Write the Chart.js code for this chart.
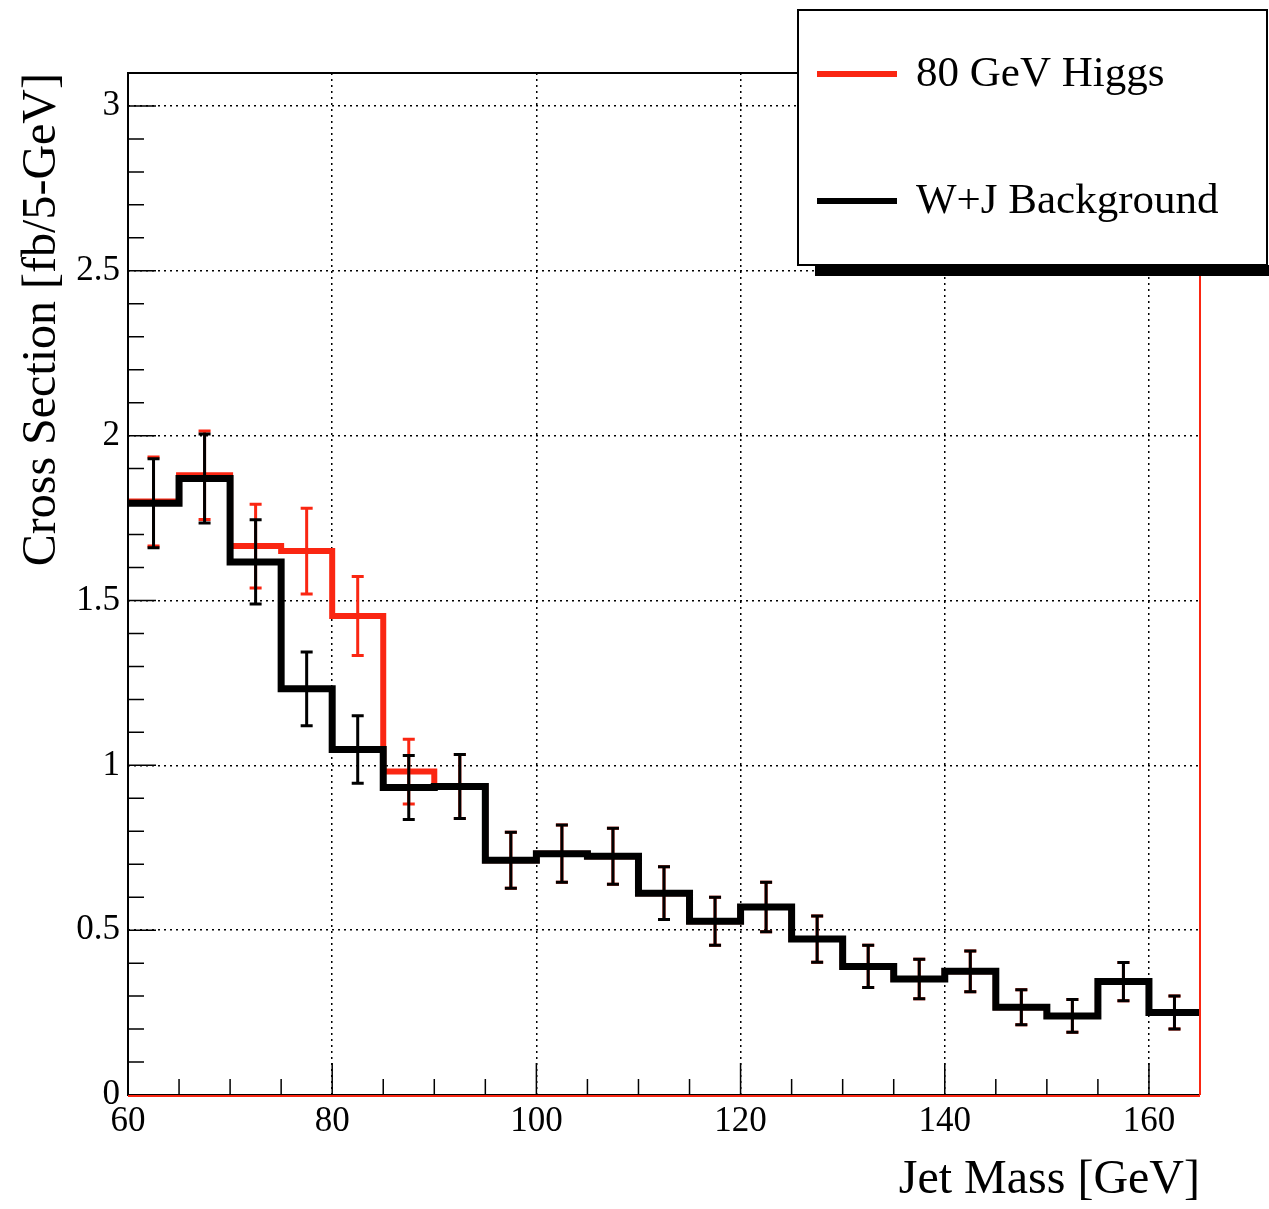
<!DOCTYPE html>
<html>
<head>
<meta charset="utf-8">
<title>Jet Mass</title>
<script src="https://cdn.jsdelivr.net/npm/chart.js@4.4.1/dist/chart.umd.min.js"></script>
<style>
    body { margin: 0; background: #fff; }
    canvas { display: block; }
</style>
</head>
<body>
<canvas id="myChart" width="1269" height="1209"></canvas>
<script>
// bins of 5 GeV, lower edges
const binLow = [60, 65, 70, 75, 80, 85, 90, 95, 100, 105, 110, 115, 120, 125, 130, 135, 140, 145, 150, 155, 160];
const binWidth = 5;

// 80 GeV Higgs (signal + background)
const higgsValues = [1.80, 1.88, 1.665, 1.65, 1.453, 0.981, 0.936, 0.712, 0.732, 0.724, 0.612, 0.527, 0.570, 0.473, 0.390, 0.352, 0.375, 0.266, 0.240, 0.344, 0.250];
const higgsErrors = [0.135, 0.134, 0.127, 0.13, 0.12, 0.098, 0.097, 0.085, 0.087, 0.085, 0.080, 0.073, 0.075, 0.070, 0.064, 0.060, 0.062, 0.053, 0.050, 0.058, 0.050];

// W+J background
const bgValues = [1.795, 1.87, 1.617, 1.232, 1.048, 0.933, 0.936, 0.712, 0.732, 0.724, 0.612, 0.527, 0.570, 0.473, 0.390, 0.352, 0.375, 0.266, 0.240, 0.344, 0.250];
const bgErrors = [0.135, 0.135, 0.128, 0.112, 0.102, 0.097, 0.097, 0.085, 0.087, 0.085, 0.080, 0.073, 0.075, 0.070, 0.064, 0.060, 0.062, 0.053, 0.050, 0.058, 0.050];

const xTickLabels = [60, 80, 100, 120, 140, 160];
const yTickLabels = [0, 0.5, 1, 1.5, 2, 2.5, 3];

const RED = 'rgb(250, 38, 18)';
const FONT = "'Liberation Serif', 'Times New Roman', serif";

// histogram -> points for a stepped line (last bin closed at its upper edge)
function stepPoints(values) {
    const pts = binLow.map(function (x, i) { return { x: x, y: values[i] }; });
    pts.push({ x: binLow[binLow.length - 1] + binWidth, y: values[values.length - 1] });
    return pts;
}

// vertical error bars at bin centres
const errorBars = {
    id: 'errorBars',
    afterDatasetDraw(chart, args) {
        const ds = chart.data.datasets[args.index];
        if (!ds.errors) return;
        const ctx = chart.ctx;
        const x = chart.scales.x, y = chart.scales.y;
        ctx.save();
        ctx.strokeStyle = ds.borderColor;
        ctx.lineWidth = 3;
        ds.values.forEach(function (v, i) {
            const cx = x.getPixelForValue(binLow[i] + binWidth / 2);
            const top = y.getPixelForValue(v + ds.errors[i]);
            const bot = y.getPixelForValue(v - ds.errors[i]);
            ctx.beginPath();
            ctx.moveTo(cx, top); ctx.lineTo(cx, bot);
            ctx.moveTo(cx - 6, top); ctx.lineTo(cx + 6, top);
            ctx.moveTo(cx - 6, bot); ctx.lineTo(cx + 6, bot);
            ctx.stroke();
        });
        ctx.restore();
    }
};

// inner tick marks + frame
const frameTicks = {
    id: 'frameTicks',
    beforeDatasetsDraw(chart) {
        const ctx = chart.ctx, a = chart.chartArea;
        const x = chart.scales.x, y = chart.scales.y;
        ctx.save();
        ctx.strokeStyle = '#000';
        ctx.lineWidth = 1.5;
        ctx.beginPath();
        for (let v = 60; v <= 165; v += 5) {
            const px = x.getPixelForValue(v);
            const len = (v % 20 === 0) ? 32 : 16;
            ctx.moveTo(px, a.bottom); ctx.lineTo(px, a.bottom - len);
        }
        for (let k = 0; k <= 31; k++) {
            const py = y.getPixelForValue(k / 10);
            const len = (k % 5 === 0) ? 28 : 16;
            ctx.moveTo(a.left, py); ctx.lineTo(a.left + len, py);
        }
        ctx.stroke();
        ctx.restore();
    },
    afterDatasetsDraw(chart) {
        const ctx = chart.ctx, a = chart.chartArea;
        ctx.save();
        ctx.lineWidth = 2;
        ctx.strokeStyle = '#000';
        ctx.beginPath();
        ctx.moveTo(a.right, a.top); ctx.lineTo(a.left, a.top);
        ctx.lineTo(a.left, a.bottom); ctx.lineTo(a.right, a.bottom);
        ctx.stroke();
        ctx.strokeStyle = RED;
        ctx.beginPath();
        ctx.moveTo(a.left, a.bottom + 1); ctx.lineTo(a.right, a.bottom + 1);
        ctx.moveTo(a.right, a.bottom); ctx.lineTo(a.right, a.top);
        ctx.stroke();
        ctx.restore();
    }
};

// ROOT style legend box with shadow
const boxLegend = {
    id: 'boxLegend',
    afterDraw(chart) {
        const ctx = chart.ctx;
        const bx = 798, by = 10, bw = 469, bh = 255;
        ctx.save();
        ctx.fillStyle = '#000';
        ctx.fillRect(bx + 17, by + bh, bw + 4, 11);
        ctx.fillStyle = '#fff';
        ctx.fillRect(bx, by, bw, bh);
        ctx.strokeStyle = '#000';
        ctx.lineWidth = 2;
        ctx.strokeRect(bx, by, bw, bh);
        ctx.font = '43px ' + FONT;
        ctx.textBaseline = 'middle';
        chart.data.datasets.forEach(function (ds, i) {
            const ly = 74 + i * 127;
            ctx.strokeStyle = ds.borderColor;
            ctx.lineWidth = 6;
            ctx.beginPath();
            ctx.moveTo(817, ly); ctx.lineTo(897, ly);
            ctx.stroke();
            ctx.fillStyle = '#000';
            ctx.fillText(ds.label, 916, ly + 1);
        });
        ctx.restore();
    }
};

const ctx = document.getElementById('myChart').getContext('2d');
const myChart = new Chart(ctx, {
    type: 'line',
    data: {
        datasets: [{
            label: '80 GeV Higgs',
            data: stepPoints(higgsValues),
            values: higgsValues,
            errors: higgsErrors,
            borderColor: RED,
            borderWidth: 6,
            stepped: true,
            pointRadius: 0,
            fill: false,
            order: 1
        }, {
            label: 'W+J Background',
            data: stepPoints(bgValues),
            values: bgValues,
            errors: bgErrors,
            borderColor: '#000',
            borderWidth: 7,
            stepped: true,
            pointRadius: 0,
            fill: false,
            order: 0
        }]
    },
    options: {
        responsive: false,
        animation: false,
        layout: { padding: { top: 73, right: 69, left: 0, bottom: 0 } },
        plugins: { legend: { display: false }, tooltip: { enabled: false } },
        scales: {
            x: {
                type: 'linear',
                min: 60,
                max: 165,
                afterBuildTicks: function (s) { s.ticks = xTickLabels.map(function (v) { return { value: v }; }); },
                afterFit: function (s) { s.height = 114; },
                grid: {
                    drawTicks: false,
                    lineWidth: 1.5,
                    color: function (c) { return c.tick && c.tick.value === 60 ? 'rgba(0,0,0,0)' : '#000'; }
                },
                border: { display: false, dash: [2, 4] },
                ticks: {
                    padding: 6, color: '#000', maxRotation: 0,
                    font: { family: FONT, size: 35 },
                    callback: function (v) { return String(v); }
                },
                title: {
                    display: true,
                    text: 'Jet Mass [GeV]',
                    align: 'end',
                    color: '#000',
                    font: { family: FONT, size: 48 },
                    padding: { top: 0, bottom: 0 }
                }
            },
            y: {
                min: 0,
                max: 3.1,
                afterBuildTicks: function (s) { s.ticks = yTickLabels.map(function (v) { return { value: v }; }); },
                afterFit: function (s) { s.width = 128; },
                grid: {
                    drawTicks: false,
                    lineWidth: 1.5,
                    color: function (c) { return c.tick && c.tick.value === 0 ? 'rgba(0,0,0,0)' : '#000'; }
                },
                border: { display: false, dash: [2, 4] },
                ticks: {
                    padding: 8, color: '#000',
                    font: { family: FONT, size: 35 },
                    callback: function (v) { return String(v); }
                },
                title: {
                    display: true,
                    text: 'Cross Section [fb/5-GeV]',
                    align: 'end',
                    color: '#000',
                    font: { family: FONT, size: 48 },
                    padding: { top: 14, bottom: 0 }
                }
            }
        }
    },
    plugins: [errorBars, frameTicks, boxLegend]
});
</script>
</body>
</html>
